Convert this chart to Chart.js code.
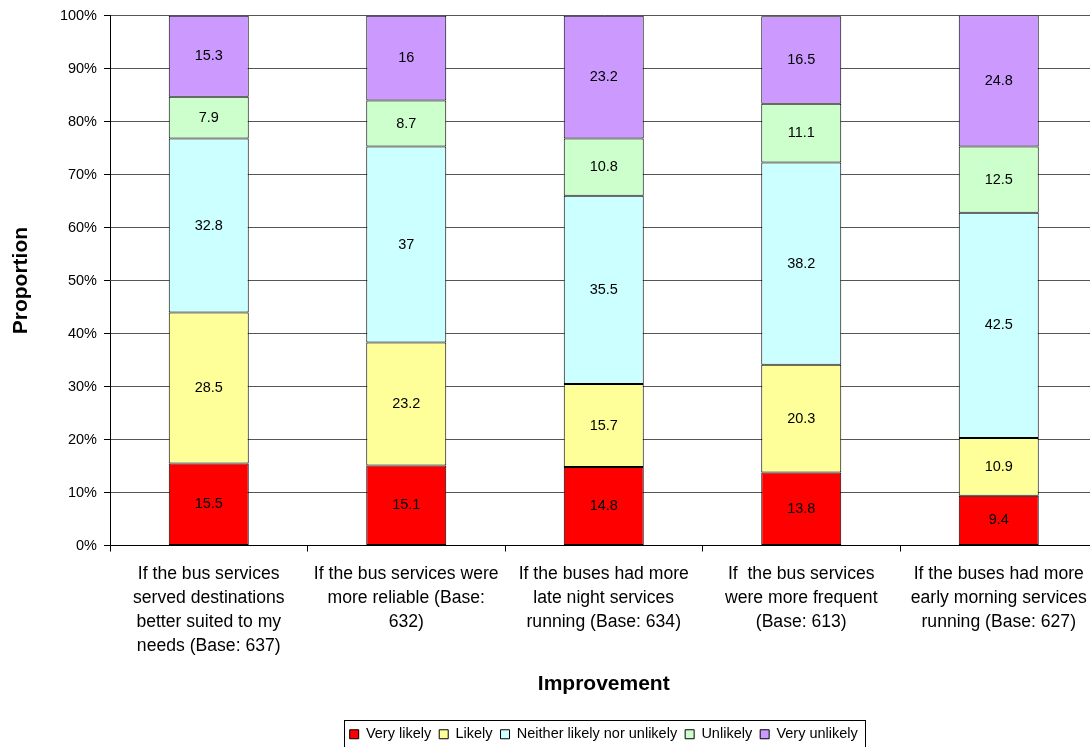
<!DOCTYPE html>
<html>
<head>
<meta charset="utf-8">
<script src="https://cdn.jsdelivr.net/npm/chart.js@4/dist/chart.umd.min.js"></script>
<style>
  html, body { margin: 0; padding: 0; background: #fff; overflow: hidden; }
  #caja { position: relative; width: 1100px; height: 747px; }
</style>
</head>
<body>
<div id="caja"><canvas id="grafico"></canvas></div>
<script>
// Categorias (etiquetas del eje X, ya cortadas en lineas)
const categorias = [
  ["If the bus services", "served destinations", "better suited to my", "needs (Base: 637)"],
  ["If the bus services were", "more reliable (Base:", "632)"],
  ["If the buses had more", "late night services", "running (Base: 634)"],
  ["If  the bus services", "were more frequent", "(Base: 613)"],
  ["If the buses had more", "early morning services", "running (Base: 627)"]
];

// Series (porcentajes)
const muyProbable    = [15.5, 15.1, 14.8, 13.8, 9.4];
const probable       = [28.5, 23.2, 15.7, 20.3, 10.9];
const ninguno        = [32.8, 37, 35.5, 38.2, 42.5];
const improbable     = [7.9, 8.7, 10.8, 11.1, 12.5];
const muyImprobable  = [15.3, 16, 23.2, 16.5, 24.8];

const nombresSeries = ["Very likely", "Likely", "Neither likely nor unlikely", "Unlikely", "Very unlikely"];
const ticksY = [0, 10, 20, 30, 40, 50, 60, 70, 80, 90, 100];

const colores = ["#FF0000", "#FFFF99", "#CCFFFF", "#CCFFCC", "#CC99FF"];
const fuente = "'Liberation Sans', Arial, sans-serif";

const valores = [muyProbable, probable, ninguno, improbable, muyImprobable];

// Etiquetas de valor dentro de cada segmento
const etiquetasValor = {
  id: "etiquetasValor",
  afterDatasetsDraw(chart) {
    const ctx = chart.ctx;
    ctx.save();
    ctx.font = "14.5px " + fuente;
    ctx.fillStyle = "#000";
    ctx.textAlign = "center";
    ctx.textBaseline = "middle";
    chart.data.datasets.forEach((ds, i) => {
      chart.getDatasetMeta(i).data.forEach((barra, j) => {
        const p = barra.getProps(["x", "y", "base"], true);
        ctx.fillText(String(ds.data[j]), p.x, (p.y + p.base) / 2);
      });
    });
    ctx.restore();
  }
};

// Marco alrededor de la leyenda (el borde de abajo queda fuera del lienzo, como en el original)
const marcoLeyenda = {
  id: "marcoLeyenda",
  afterDraw(chart) {
    const cajas = chart.legend.legendHitBoxes;
    if (!cajas || !cajas.length) return;
    const ult = cajas[cajas.length - 1];
    const x0 = cajas[0].left - 6;
    const x1 = ult.left + ult.width + 7;
    const cy = cajas[0].top + cajas[0].height / 2;
    const y0 = cy - 14.5;
    const ctx = chart.ctx;
    ctx.save();
    ctx.strokeStyle = "#000";
    ctx.lineWidth = 1;
    ctx.strokeRect(Math.round(x0) + 0.5, Math.round(y0) + 0.5, Math.round(x1 - x0), 40);
    ctx.restore();
  }
};

new Chart(document.getElementById("grafico"), {
  type: "bar",
  data: {
    labels: categorias,
    datasets: nombresSeries.map((n, i) => ({
      label: n,
      data: valores[i],
      backgroundColor: colores[i],
      borderColor: "#000",
      borderWidth: 1,
      borderSkipped: false,
      categoryPercentage: 1,
      barPercentage: 0.405
    }))
  },
  options: {
    responsive: true,
    maintainAspectRatio: false,
    animation: false,
    layout: { padding: { top: 15, right: 2.5, bottom: -4.5, left: 9 } },
    plugins: {
      tooltip: { enabled: false },
      legend: {
        position: "bottom",
        fullSize: false,
        labels: {
          boxWidth: 9,
          boxHeight: 9,
          padding: 8,
          color: "#000",
          font: { family: fuente, size: 14.5 },
          generateLabels(chart) {
            return chart.data.datasets.map((ds, i) => ({
              text: ds.label,
              fillStyle: ds.backgroundColor,
              strokeStyle: "#000",
              lineWidth: 1,
              datasetIndex: i
            }));
          }
        }
      }
    },
    scales: {
      x: {
        stacked: true,
        afterFit(s) { s.height = 173.5; },
        border: { display: true, color: "#000", width: 1 },
        grid: { offset: true, drawOnChartArea: false, drawTicks: true, tickLength: 6, tickColor: "#000" },
        ticks: { color: "#000", padding: 11, maxRotation: 0, autoSkip: false, font: { family: fuente, size: 17.6, lineHeight: 24 / 17.6 } },
        title: {
          display: true,
          text: "Improvement",
          color: "#000",
          font: { family: fuente, size: 21, weight: "bold" },
          padding: { top: 0, bottom: 22.5 }
        }
      },
      y: {
        stacked: true,
        min: 0,
        max: 100,
        afterFit(s) { s.width = 101; },
        afterBuildTicks(s) { s.ticks = ticksY.map(v => ({ value: v })); },
        border: { display: true, color: "#000", width: 1 },
        grid: { color: "#555", tickColor: "#000", tickLength: 6, drawTicks: true },
        ticks: {
          color: "#000",
          padding: 7,
          font: { family: fuente, size: 14.5 },
          callback: v => v + "%"
        },
        title: {
          display: true,
          text: "Proportion",
          color: "#000",
          font: { family: fuente, size: 21, weight: "bold" },
          padding: { top: 0, bottom: 0 }
        }
      }
    }
  },
  plugins: [etiquetasValor, marcoLeyenda]
});
</script>
</body>
</html>
